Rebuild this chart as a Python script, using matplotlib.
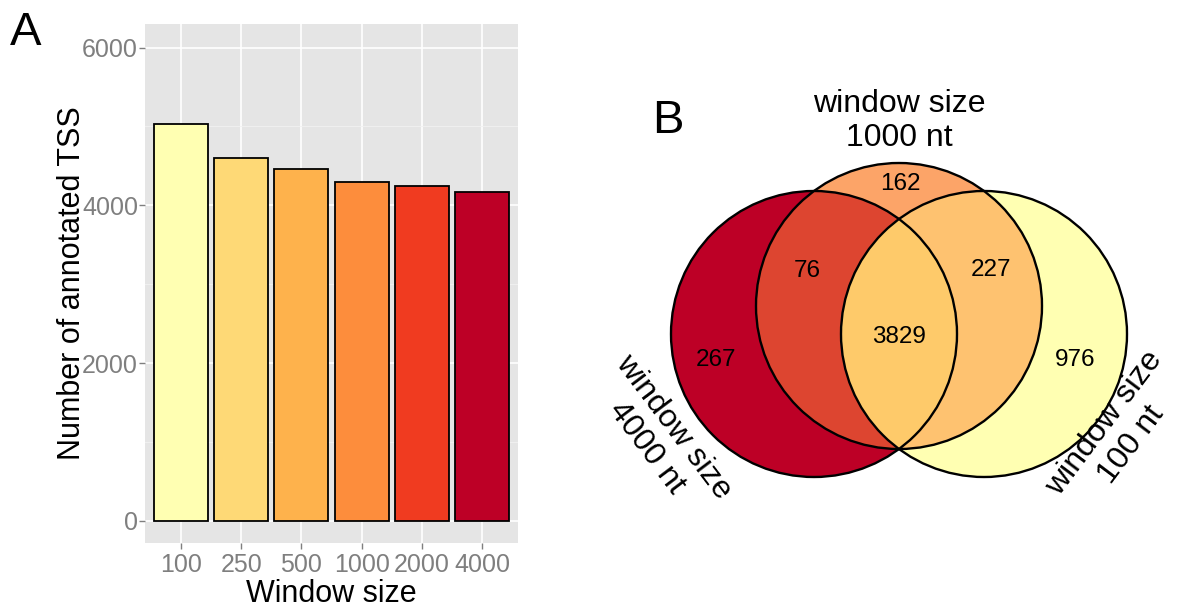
import numpy as np
import matplotlib
matplotlib.use("Agg")
import matplotlib.pyplot as plt
from matplotlib.patches import Circle
from matplotlib.ticker import FixedLocator

plt.rcParams["font.family"] = ["Liberation Sans", "DejaVu Sans"]

# Panel A: annotated TSS per window size
window_sizes = ["100", "250", "500", "1000", "2000", "4000"]
tss_counts = [5032, 4605, 4462, 4294, 4240, 4172]
bar_colors = ["#FFFFB2", "#FED976", "#FEB24C", "#FD8D3C", "#F03B20", "#BD0026"]

# Panel B: overlap of TSS sets (100, 1000, 4000 nt windows)
only_4000 = 267
only_1000 = 162
only_100 = 976
in_4000_1000 = 76
in_1000_100 = 227
in_all = 3829

W, H = 1186, 609
fig = plt.figure(figsize=(W / 100, H / 100), dpi=100)

# ---- A: bar chart, ggplot-like look ----
ax = fig.add_axes([145 / W, 66 / H, 373 / W, 519 / H])
ax.set_facecolor("#E5E5E5")
x = np.arange(1, len(window_sizes) + 1)
ax.bar(x, tss_counts, width=0.9, color=bar_colors, edgecolor="black",
       linewidth=1.3, zorder=3)
ax.set_xlim(0.4, 6.6)
ax.set_ylim(-279, 6298)
ax.set_xticks(x)
ax.set_xticklabels(window_sizes)
ax.set_yticks([0, 2000, 4000, 6000])
ax.yaxis.set_minor_locator(FixedLocator([1000, 3000, 5000]))
ax.grid(which="major", color="white", linewidth=1.2, zorder=0)
ax.grid(which="minor", axis="y", color="#F2F2F2", linewidth=0.6, zorder=0)
ax.set_axisbelow(True)
for s in ax.spines.values():
    s.set_visible(False)
ax.tick_params(axis="both", which="major", colors="#7F7F7F", labelsize=18,
               length=4, width=1)
ax.tick_params(axis="y", pad=1)
ax.tick_params(axis="x", pad=3)
ax.tick_params(which="minor", length=0)

ax.set_xlabel("Window size", fontsize=22)
ax.xaxis.set_label_coords(0.5, (543 - 602) / 519)
ax.xaxis.label.set_va("baseline")
ax.set_ylabel("Number of annotated TSS", fontsize=22)
ax.yaxis.set_label_coords((80 - 145) / 373, 0.5)
ax.yaxis.label.set_va("baseline")

# ---- B: three-set Venn diagram, drawn in pixel coordinates ----
ax_v = fig.add_axes([0, 0, 1, 1])
ax_v.set_xlim(0, W)
ax_v.set_ylim(H, 0)
ax_v.axis("off")

r = 143
c4000 = (814, 334)
c1000 = (899, 306)
c100 = (984, 334)


def disc(center, color, clip=None):
    p = Circle(center, r, facecolor=color, edgecolor="none")
    ax_v.add_patch(p)
    if clip is not None:
        p.set_clip_path(Circle(clip, r, transform=ax_v.transData))
    return p


disc(c4000, "#BD0026")
disc(c100, "#FFFFB2")
disc(c1000, "#FCA468")
disc(c1000, "#DD4530", clip=c4000)
disc(c1000, "#FEC270", clip=c100)
disc(c4000, "#FECA6A", clip=c100)
for c in (c4000, c1000, c100):
    ax_v.add_patch(Circle(c, r, fill=False, edgecolor="black", linewidth=1.7))

region_labels = [
    (only_1000, (900, 184)),
    (in_4000_1000, (807, 271)),
    (in_1000_100, (991, 270)),
    (in_all, (899, 337)),
    (only_4000, (716, 360)),
    (only_100, (1075, 360)),
]
for n, (px, py) in region_labels:
    ax_v.text(px, py, str(n), ha="center", va="center", fontsize=17.5)

ax_v.text(899, 121, "window size\n1000 nt", ha="center", va="center",
          fontsize=23, linespacing=1.2)
ax_v.text(660, 437, "window size\n4000 nt", ha="center", va="center",
          fontsize=23, rotation=-53, rotation_mode="anchor", linespacing=1.2)
ax_v.text(1118, 434, "window size\n100 nt", ha="center", va="center",
          fontsize=23, rotation=53, rotation_mode="anchor", linespacing=1.2)

# panel letters
ax_v.text(26, 45, "A", ha="center", va="baseline", fontsize=34)
ax_v.text(668, 133, "B", ha="center", va="baseline", fontsize=34)

fig.savefig("out.png", dpi=100)
